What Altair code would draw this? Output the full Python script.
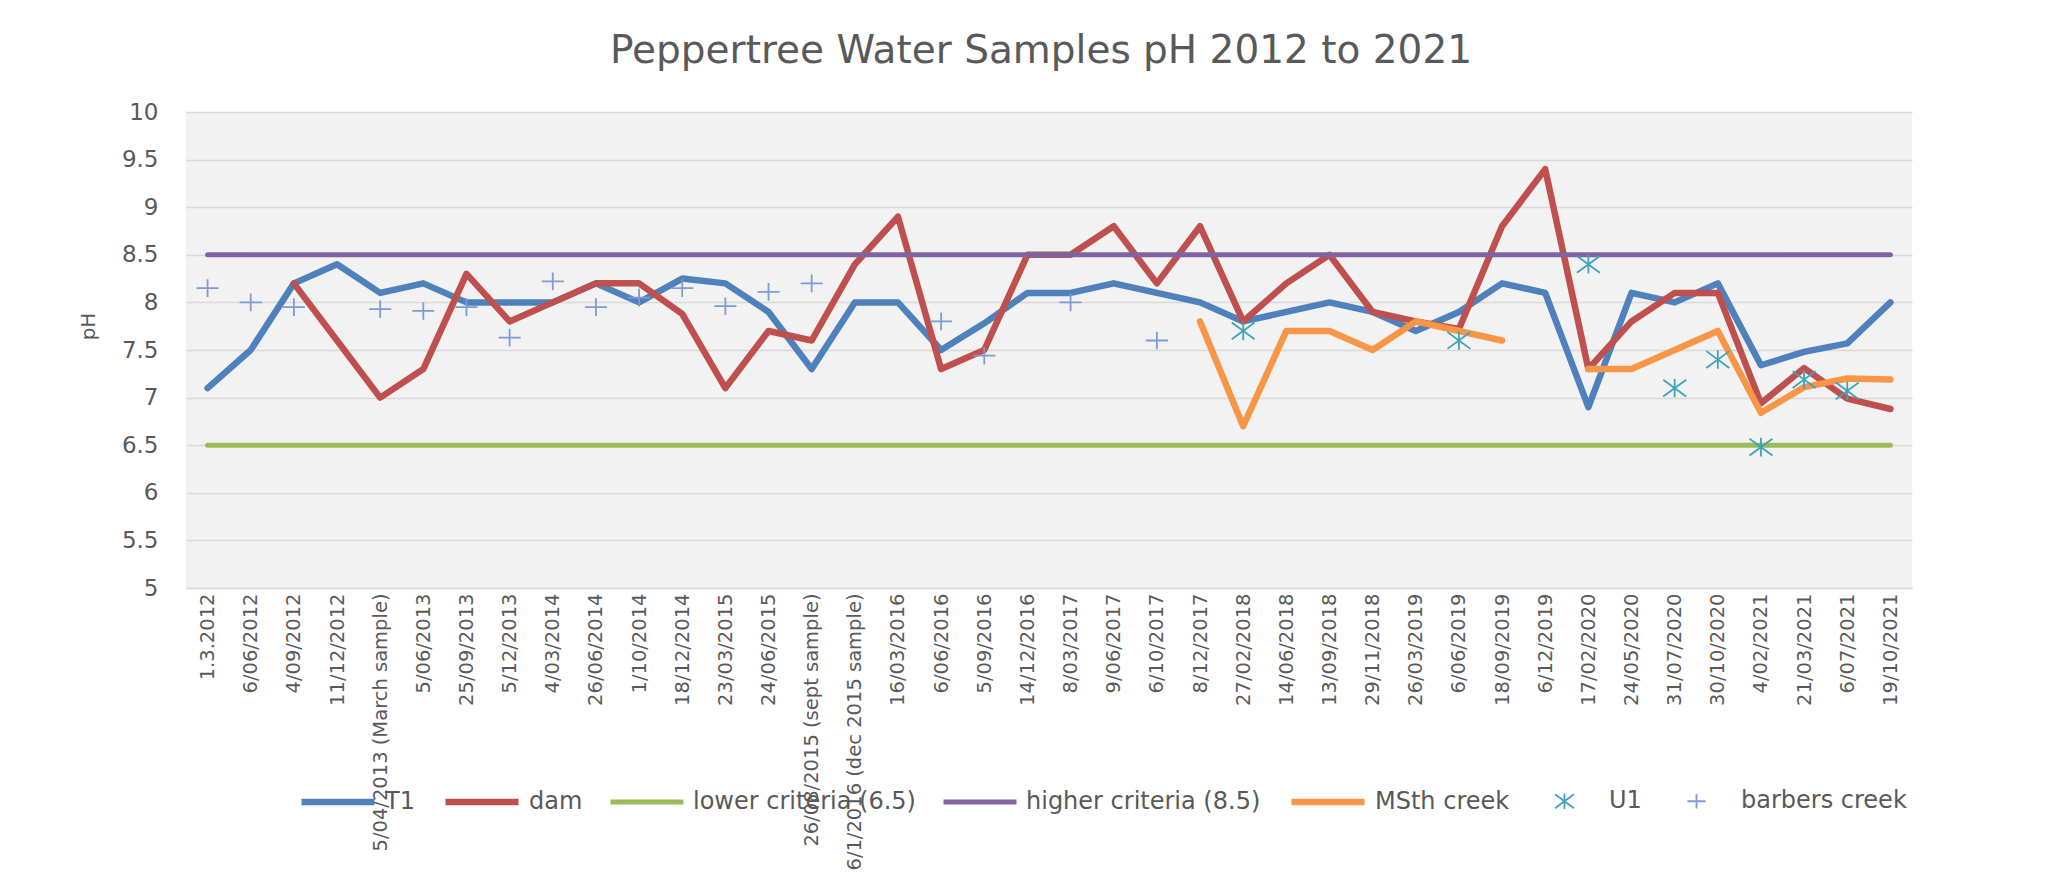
import altair as alt
import pandas as pd

# ---------------- data ----------------
dates = [
    "1.3.2012", "6/06/2012", "4/09/2012", "11/12/2012", "5/04/2013 (March sample)",
    "5/06/2013", "25/09/2013", "5/12/2013", "4/03/2014", "26/06/2014",
    "1/10/2014", "18/12/2014", "23/03/2015", "24/06/2015", "26/08/2015 (sept sample)",
    "6/1/2016 (dec 2015 sample)", "16/03/2016", "6/06/2016", "5/09/2016", "14/12/2016",
    "8/03/2017", "9/06/2017", "6/10/2017", "8/12/2017", "27/02/2018",
    "14/06/2018", "13/09/2018", "29/11/2018", "26/03/2019", "6/06/2019",
    "18/09/2019", "6/12/2019", "17/02/2020", "24/05/2020", "31/07/2020",
    "30/10/2020", "4/02/2021", "21/03/2021", "6/07/2021", "19/10/2021",
]

t1 = [7.1, 7.5, 8.2, 8.4, 8.1, 8.2, 8.0, 8.0, 8.0, 8.2,
      8.0, 8.25, 8.2, 7.9, 7.3, 8.0, 8.0, 7.5, 7.78, 8.1,
      8.1, 8.2, 8.1, 8.0, 7.8, 7.9, 8.0, 7.9, 7.7, 7.9,
      8.2, 8.1, 6.9, 8.1, 8.0, 8.2, 7.34, 7.48, 7.57, 8.0]

dam = [None, None, 8.2, 7.6, 7.0, 7.3, 8.3, 7.8, 8.0, 8.2,
       8.2, 7.88, 7.1, 7.7, 7.6, 8.4, 8.9, 7.3, 7.5, 8.5,
       8.5, 8.8, 8.2, 8.8, 7.8, 8.2, 8.5, 7.9, 7.8, 7.72,
       8.8, 9.4, 7.3, 7.8, 8.1, 8.1, 6.94, 7.31, 6.99, 6.88]

lower = [6.5] * len(dates)
higher = [8.5] * len(dates)

msth = [None, None, None, None, None, None, None, None, None, None,
        None, None, None, None, None, None, None, None, None, None,
        None, None, None, 7.8, 6.7, 7.7, 7.7, 7.5, 7.8, 7.7,
        7.6, None, 7.3, 7.3, 7.5, 7.7, 6.84, 7.11, 7.2, 7.19]

u1 = [None, None, None, None, None, None, None, None, None, None,
      None, None, None, None, None, None, None, None, None, None,
      None, None, None, None, 7.7, None, None, None, None, 7.6,
      None, None, 8.4, None, 7.1, 7.4, 6.48, 7.19, 7.07, None]

barbers = [8.15, 8.0, 7.95, None, 7.93, 7.91, 7.95, 7.63, 8.22, 7.95,
           8.05, 8.15, 7.96, 8.11, 8.2, None, None, 7.8, 7.44, None,
           8.0, None, 7.6, None, None, None, None, None, None, None,
           None, None, None, None, None, None, None, None, None, None]

series_names = ["T1", "dam", "lower criteria (6.5)", "higher criteria (8.5)",
                "MSth creek", "U1", "barbers creek"]
series_colors = ["#4F81BD", "#C0504D", "#9BBB59", "#8064A2",
                 "#F79646", "#3FA3BC", "#7E9BD3"]
series_widths = [6.5, 6.5, 5, 5, 6.5, 1.8, 1.8]
y_ticks = [5, 5.5, 6, 6.5, 7, 7.5, 8, 8.5, 9, 9.5, 10]

# ---------------- long table ----------------
rows = []
for name, vals in zip(series_names,
                      [t1, dam, lower, higher, msth, u1, barbers]):
    seg = 0
    prev_none = False
    for i, v in enumerate(vals):
        if v is None:
            prev_none = True
            continue
        if prev_none and any(x is not None for x in vals[:i]):
            seg += 1
        prev_none = False
        rows.append({"date": dates[i], "idx": i, "series": name,
                     "pH": v, "seg": f"{name}-{seg}"})
df = pd.DataFrame(rows)

FONT = "DejaVu Sans"
TXT = "#595959"
GRID = "#D9D9D9"

# marker paths (small extents so one size serves both plot and legend)
star_path = "M-0.26,-0.19L0.26,0.19M-0.26,0.19L0.26,-0.19M0,-0.21L0,0.21"
plus_path = "M-0.25,0L0.25,0M0,-0.2L0,0.2"
series_shapes = ["stroke", "stroke", "stroke", "stroke", "stroke",
                 star_path, plus_path]

legend = alt.Legend(
    orient="none", legendX=112, legendY=650, direction="horizontal",
    title=None, padding=0,
    symbolType="stroke", symbolSize=5329,
    symbolFillColor="transparent",
    labelFont=FONT, labelFontSize=24, labelColor=TXT, labelOffset=7,
    labelLimit=500, columnPadding=17,
)

color = alt.Color("series:N",
                  scale=alt.Scale(domain=series_names, range=series_colors),
                  legend=legend)
shape = alt.Shape("series:N",
                  scale=alt.Scale(domain=series_names, range=series_shapes),
                  legend=legend)
swidth = alt.StrokeWidth("series:N",
                         scale=alt.Scale(type="ordinal", domain=series_names,
                                         range=series_widths),
                         legend=legend)

x_enc = alt.X("date:N",
              scale=alt.Scale(type="point", domain=dates, padding=0.5),
              axis=alt.Axis(labelAngle=270, labelFont=FONT, labelFontSize=19.5,
                            labelColor=TXT, labelPadding=5, ticks=False,
                            domainColor=GRID, domainWidth=1.5, grid=False,
                            title=None, labelLimit=400, labelOverlap=False))

y_enc = alt.Y("pH:Q",
              scale=alt.Scale(domain=[5, 10], nice=False, zero=False),
              axis=alt.Axis(values=y_ticks, format="~g", labelFont=FONT,
                            labelFontSize=23, labelColor=TXT, labelPadding=28,
                            ticks=False, domain=False, gridColor=GRID,
                            gridWidth=1.5, title="pH", titleFont=FONT,
                            titleFontSize=20, titleFontWeight="normal",
                            titleColor=TXT, titleAngle=270, titleX=-92,
                            titleY=214, titleAlign="center",
                            titleBaseline="alphabetic"))

base = alt.Chart(df)


def line_layer(name):
    return base.transform_filter(alt.datum.series == name).mark_line(
        strokeJoin="round", strokeCap="round"
    ).encode(x=x_enc, y=y_enc, color=color, strokeWidth=swidth,
             detail="seg:N", order=alt.Order("idx:Q"))


def point_layer(name):
    return base.transform_filter(alt.datum.series == name).mark_point(
        filled=False, size=7800, opacity=1
    ).encode(x=x_enc, y=y_enc, color=color, shape=shape, strokeWidth=swidth)


chart = alt.layer(
    line_layer("T1"),
    line_layer("dam"),
    line_layer("lower criteria (6.5)"),
    line_layer("higher criteria (8.5)"),
    line_layer("MSth creek"),
    point_layer("U1"),
    point_layer("barbers creek"),
).properties(
    width=1726, height=476,
    title=alt.TitleParams("Peppertree Water Samples pH 2012 to 2021",
                          anchor="middle", font=FONT, fontSize=39,
                          fontWeight="normal", color=TXT, offset=30, dx=-8),
    autosize=alt.AutoSizeParams(type="none"),
    padding={"left": 178, "top": 104, "right": 130, "bottom": 291},
    background="white",
).configure_view(fill="#F2F2F2", strokeWidth=0)

chart.save("out.html", embed_options={"renderer": "svg", "actions": False})
